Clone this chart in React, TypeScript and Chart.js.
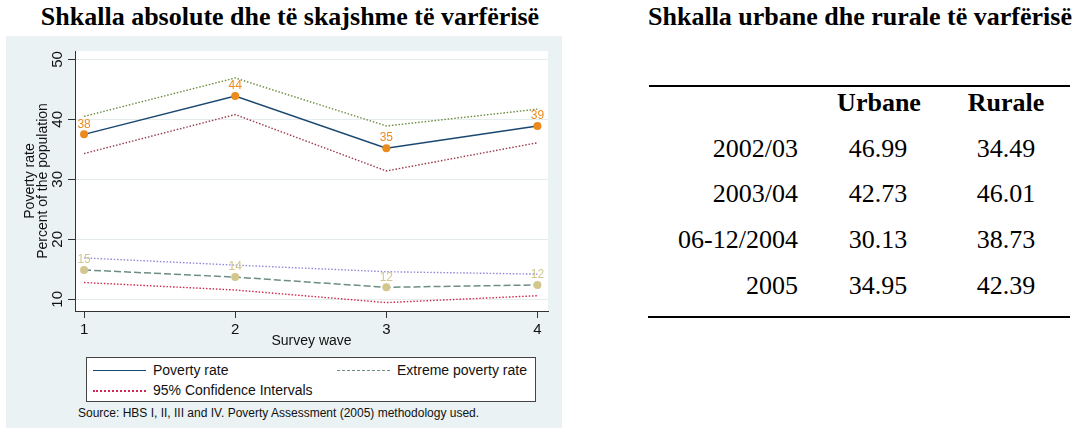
import React, { useEffect, useRef } from 'react';
import { Chart, registerables } from 'chart.js';

Chart.register(...registerables);

// ---- Data ----
const waves = [1, 2, 3, 4];
const povertyRate = [37.5, 43.9, 35.2, 38.9];
const povertyUpper = [40.5, 46.9, 38.9, 41.7];
const povertyLower = [34.3, 40.8, 31.4, 36.1];
const extremeRate = [14.9, 13.7, 12.0, 12.4];
const extremeUpper = [16.9, 15.7, 14.6, 14.2];
const extremeLower = [12.8, 11.55, 9.45, 10.6];
const yTicks = [10, 20, 30, 40, 50];

const tablePeriods = ['2002/03', '2003/04', '06-12/2004', '2005'];
const urbaneValues = ['46.99', '42.73', '30.13', '34.95'];
const ruraleValues = ['34.49', '46.01', '38.73', '42.39'];

const SANS = '"Liberation Sans", Arial, Helvetica, sans-serif';
const SERIF = '"Liberation Serif", "Times New Roman", serif';

const NAVY = '#1a476f';
const ORANGE = '#ec8a1c';
const TEAL = '#6e8e84';
const KHAKI = '#d2c78c';
const GREEN = '#6a8a3a';
const MAROON = '#9a3a4a';
const LAVENDER = '#9088d8';
const CRANBERRY = '#d0284e';
const PANEL = '#eaf2f3';

const toXY = (vals: number[]) => vals.map((v, i) => ({ x: waves[i], y: v }));

const plotBgPlugin = {
  id: 'plotBg',
  beforeDraw(chart: any) {
    const { ctx, chartArea } = chart;
    ctx.save();
    ctx.fillStyle = '#ffffff';
    ctx.fillRect(chartArea.left, chartArea.top, chartArea.right - chartArea.left, chartArea.bottom - chartArea.top);
    ctx.restore();
  },
};

const valueLabelPlugin = {
  id: 'valueLabels',
  afterDatasetsDraw(chart: any) {
    const { ctx } = chart;
    chart.data.datasets.forEach((ds: any, i: number) => {
      if (!ds.labelColor) return;
      const meta = chart.getDatasetMeta(i);
      ctx.save();
      ctx.font = `12px ${SANS}`;
      ctx.fillStyle = ds.labelColor;
      ctx.textAlign = 'center';
      ctx.textBaseline = 'middle';
      meta.data.forEach((pt: any, j: number) => {
        const v = ds.data[j].y;
        ctx.fillText(String(Math.round(v)), pt.x, pt.y - 10);
      });
      ctx.restore();
    });
  },
};

function PovertyChart() {
  const ref = useRef<HTMLCanvasElement>(null);
  useEffect(() => {
    if (!ref.current) return;
    const dotted = [1.5, 1.8];
    const chart = new Chart(ref.current, {
      type: 'line',
      data: {
        datasets: [
          {
            label: 'Poverty rate',
            data: toXY(povertyRate),
            borderColor: NAVY,
            borderWidth: 1.5,
            pointRadius: 4,
            pointBackgroundColor: ORANGE,
            pointBorderWidth: 0,
            labelColor: ORANGE,
          } as any,
          {
            label: 'Extreme poverty rate',
            data: toXY(extremeRate),
            borderColor: TEAL,
            borderWidth: 1.5,
            borderDash: [7, 3],
            pointRadius: 4,
            pointBackgroundColor: KHAKI,
            pointBorderWidth: 0,
            labelColor: KHAKI,
          } as any,
          { label: 'Upper CI', data: toXY(povertyUpper), borderColor: GREEN, borderWidth: 1.4, borderDash: dotted, pointRadius: 0 },
          { label: 'Lower CI', data: toXY(povertyLower), borderColor: MAROON, borderWidth: 1.4, borderDash: dotted, pointRadius: 0 },
          { label: 'Upper CI ext', data: toXY(extremeUpper), borderColor: LAVENDER, borderWidth: 1.4, borderDash: dotted, pointRadius: 0 },
          { label: 'Lower CI ext', data: toXY(extremeLower), borderColor: CRANBERRY, borderWidth: 1.4, borderDash: dotted, pointRadius: 0 },
        ],
      },
      options: {
        animation: false,
        responsive: false,
        maintainAspectRatio: false,
        layout: { padding: { left: 0, right: 14, top: 15, bottom: 0 } },
        plugins: { legend: { display: false }, tooltip: { enabled: false } },
        elements: { line: { tension: 0 } },
        scales: {
          x: {
            type: 'linear',
            min: 0.94,
            max: 4.07,
            afterBuildTicks: (s: any) => { s.ticks = waves.map((v) => ({ value: v })); },
            afterFit: (s: any) => { s.height = 41; },
            grid: { drawOnChartArea: false, drawTicks: true, tickLength: 7, tickColor: '#333', tickWidth: 1 },
            border: { display: true, color: '#333', width: 1 },
            ticks: {
              autoSkip: false,
              maxRotation: 0,
              padding: 3,
              color: '#111',
              font: { size: 15, family: SANS },
              callback: (v: any) => String(v),
            },
            title: {
              display: true,
              text: 'Survey wave',
              color: '#111',
              font: { size: 14, family: SANS, lineHeight: 1 },
              padding: { top: 0, bottom: 4 },
            },
          },
          y: {
            type: 'linear',
            min: 8.05,
            max: 51.4,
            afterBuildTicks: (s: any) => { s.ticks = yTicks.map((v) => ({ value: v })); },
            afterFit: (s: any) => { s.width = 69; },
            grid: { color: '#e4ecee', lineWidth: 1, drawTicks: true, tickLength: 7, tickColor: '#333', tickWidth: 1 },
            border: { display: true, color: '#333', width: 1 },
            ticks: {
              autoSkip: false,
              minRotation: 90,
              maxRotation: 90,
              crossAlign: 'center',
              padding: 2,
              color: '#111',
              font: { size: 15, family: SANS },
              callback: (v: any) => String(v),
            },
            title: {
              display: true,
              text: ['Poverty rate', 'Percent of the population'],
              color: '#111',
              font: { size: 14, family: SANS, lineHeight: 0.95 },
              padding: { top: 17, bottom: 0 },
            },
          },
        },
      } as any,
      plugins: [plotBgPlugin, valueLabelPlugin],
    });
    return () => chart.destroy();
  }, []);
  return <canvas ref={ref} width={556} height={316} style={{ position: 'absolute', left: 0, top: 0, width: 556, height: 316 }} />;
}

const abs = (s: React.CSSProperties): React.CSSProperties => ({ position: 'absolute', ...s });

export default function App() {
  const rowCenters = [148.5, 194, 240, 286];
  return (
    <div style={abs({ left: 0, top: 0, width: 1084, height: 435, background: '#fff', overflow: 'hidden' })}>
      {/* Left title */}
      <div style={abs({ left: 0, top: 2, width: 580, textAlign: 'center', font: `bold 26px ${SERIF}`, lineHeight: '30px', color: '#000', whiteSpace: 'nowrap' })}>
        Shkalla absolute dhe të skajshme të varfërisë
      </div>
      {/* Panel */}
      <div style={abs({ left: 6, top: 36, width: 556, height: 392, background: PANEL })}>
        <PovertyChart />
        {/* Legend */}
        <div style={abs({ left: 80, top: 321, width: 448, height: 43, background: '#fff', border: '1px solid #444', fontFamily: SANS, fontSize: 14, color: '#111' })}>
          <div style={abs({ left: 6, top: 12, width: 53, height: 0, borderTop: `1.5px solid ${NAVY}` })} />
          <div style={abs({ left: 66, top: 4, lineHeight: '16px', whiteSpace: 'nowrap' })}>Poverty rate</div>
          <div style={abs({ left: 250, top: 12, width: 53, height: 0, borderTop: `1.5px dashed ${TEAL}` })} />
          <div style={abs({ left: 310, top: 4, lineHeight: '16px', whiteSpace: 'nowrap' })}>Extreme poverty rate</div>
          <div style={abs({ left: 6, top: 32, width: 53, height: 0, borderTop: `2px dotted ${CRANBERRY}` })} />
          <div style={abs({ left: 66, top: 24, lineHeight: '16px', whiteSpace: 'nowrap' })}>95% Confidence Intervals</div>
        </div>
        <div style={abs({ left: 72, top: 370, fontFamily: SANS, fontSize: 12, lineHeight: '14px', color: '#111', whiteSpace: 'nowrap' })}>
          Source: HBS I, II, III and IV. Poverty Assessment (2005) methodology used.
        </div>
      </div>
      {/* Right title */}
      <div style={abs({ left: 640, top: 2, width: 440, textAlign: 'center', font: `bold 26px ${SERIF}`, lineHeight: '30px', color: '#000', whiteSpace: 'nowrap' })}>
        Shkalla urbane dhe rurale të varfërisë
      </div>
      {/* Table */}
      <div style={abs({ left: 649, top: 85, width: 421, height: 0, borderTop: '2px solid #000' })} />
      <div style={abs({ left: 819, top: 88, width: 120, textAlign: 'center', font: `bold 26px ${SERIF}`, lineHeight: '30px' })}>Urbane</div>
      <div style={abs({ left: 946, top: 88, width: 120, textAlign: 'center', font: `bold 26px ${SERIF}`, lineHeight: '30px' })}>Rurale</div>
      {tablePeriods.map((p, i) => (
        <React.Fragment key={p}>
          <div style={abs({ left: 640, top: rowCenters[i] - 15, width: 158, textAlign: 'right', font: `26px ${SERIF}`, lineHeight: '30px', whiteSpace: 'nowrap' })}>{p}</div>
          <div style={abs({ left: 818, top: rowCenters[i] - 15, width: 120, textAlign: 'center', font: `26px ${SERIF}`, lineHeight: '30px' })}>{urbaneValues[i]}</div>
          <div style={abs({ left: 946, top: rowCenters[i] - 15, width: 120, textAlign: 'center', font: `26px ${SERIF}`, lineHeight: '30px' })}>{ruraleValues[i]}</div>
        </React.Fragment>
      ))}
      <div style={abs({ left: 648, top: 316, width: 422, height: 0, borderTop: '2px solid #000' })} />
    </div>
  );
}
